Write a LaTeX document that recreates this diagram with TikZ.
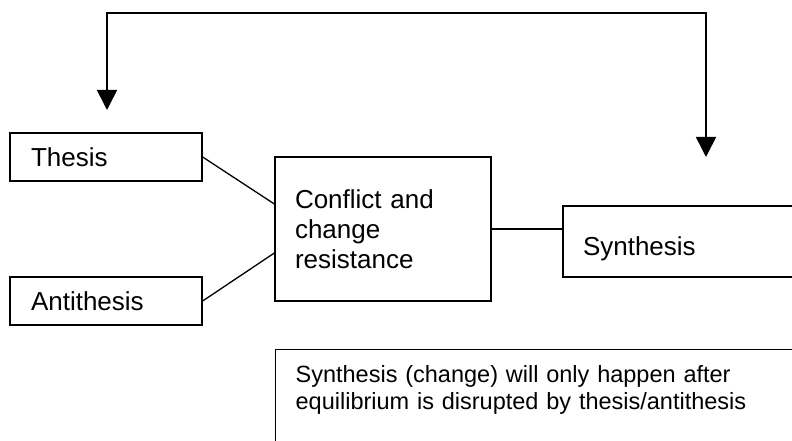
\documentclass[tikz,border=0pt]{standalone}
\usepackage{fontspec}
\setmainfont{Liberation Sans}
\usetikzlibrary{arrows.meta}
\begin{document}
\begin{tikzpicture}[x=1pt,y=-1pt,
  box/.style={draw, line width=1.3pt, rectangle, inner xsep=20pt, inner ysep=0pt,
    align=left, font=\fontsize{26}{30}\selectfont},
  link/.style={line width=1.3pt},
  loopline/.style={line width=1.6pt,
    {Triangle[length=20pt,width=20pt]}-{Triangle[length=20pt,width=20pt]}}]
\clip (0,0) rectangle (792,441);
\node[box, text width=150pt, inner xsep=21pt, minimum height=48pt] (thesis) at (106,157) {Thesis};
\node[box, text width=150pt, inner xsep=21pt, minimum height=48pt] (anti) at (106,301) {Antithesis};
\node[box, text width=176pt, minimum height=144pt] (conflict) at (383,229) {Conflict and\\change\\resistance};
\node[box, text width=197pt, minimum height=71pt, text height=32pt, text depth=5pt] (synth) at (681.5,241.5) {Synthesis};
\node[box, anchor=north west, text width=490pt, inner ysep=15.8pt, text depth=90pt,
  font=\fontsize{23.5}{27}\selectfont] (note) at (275,349)
  {Synthesis (change) will only happen after\\equilibrium is disrupted by thesis/antithesis};
\coordinate (tA) at (107,110);
\coordinate (c1) at (107,13);
\coordinate (c2) at (706,13);
\coordinate (tB) at (706,157);
\draw[loopline] (tA) -- (c1) -- (c2) -- (tB);
\draw[link] (thesis.east) -- ([yshift=25pt]conflict.west);
\draw[link] (anti.east) -- ([yshift=-24pt]conflict.west);
\draw[link] (conflict.east) -- (conflict.east -| synth.west);
\end{tikzpicture}
\end{document}
